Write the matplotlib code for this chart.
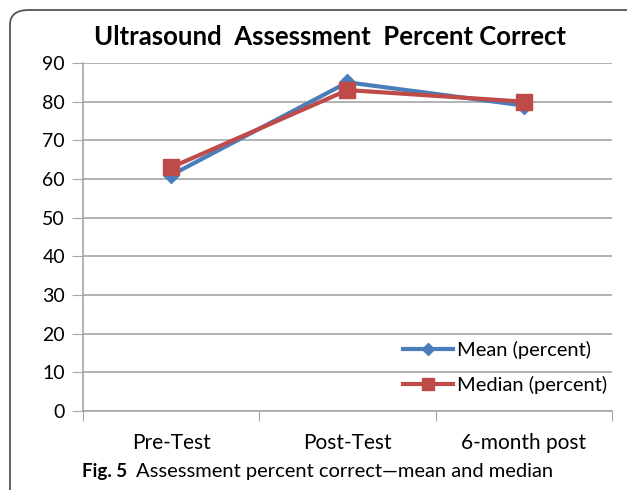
import matplotlib.pyplot as plt
from matplotlib.patches import FancyBboxPatch

# Daten
zeitpunkte = ["Pre-Test", "Post-Test", "6-month post"]
mittelwert = [61, 85, 79]   # Mean (percent)
median = [63, 83, 80]       # Median (percent)
y_ticks = [0, 10, 20, 30, 40, 50, 60, 70, 80, 90]

plt.rcParams['font.family'] = ['Lato', 'DejaVu Sans']

fig = plt.figure(figsize=(6.27, 4.9), dpi=100)

# Rahmen mit runden Ecken (rechts und unten abgeschnitten)
rahmen = FancyBboxPatch((10 / 627, -0.1), 1.1, 0.1 + 1 - 10 / 490,
                        boxstyle="round,pad=0,rounding_size=0.03",
                        transform=fig.transFigure, fill=False,
                        edgecolor='#555555', linewidth=1.3)
fig.patches.append(rahmen)

ax = fig.add_axes([83 / 627, 1 - 411 / 490, 529 / 627, 348 / 490])

x = list(range(len(zeitpunkte)))
ax.plot(x, mittelwert, color='#4A7EBB', linewidth=3, marker='D', markersize=8,
        label='Mean (percent)', zorder=3)
ax.plot(x, median, color='#BE4B48', linewidth=3, marker='s', markersize=12,
        label='Median (percent)', zorder=4)

ax.set_xlim(-0.5, 2.5)
ax.set_ylim(0, 90)
ax.set_yticks(y_ticks)
ax.yaxis.grid(True, color='#a6a6a6', linewidth=1.2)
ax.set_axisbelow(True)
ax.tick_params(axis='y', labelsize=14, length=8, color='#a6a6a6', pad=5)

# Kategorien zwischen den Tick-Strichen
ax.set_xticks([-0.5, 0.5, 1.5, 2.5])
ax.set_xticklabels([])
ax.tick_params(axis='x', length=7, color='#a6a6a6')
ax.set_xticks(x, minor=True)
ax.set_xticklabels(zeitpunkte, minor=True, fontsize=15)
ax.tick_params(axis='x', which='minor', length=0, pad=16)

for s in ['top', 'right']:
    ax.spines[s].set_visible(False)
for s in ['left', 'bottom']:
    ax.spines[s].set_color('#a6a6a6')
    ax.spines[s].set_linewidth(1.2)

ax.legend(loc='lower right', frameon=False, fontsize=14.5, handlelength=2.5,
          labelspacing=0.85, borderaxespad=0.1, handletextpad=0.2,
          markerscale=0.75, bbox_to_anchor=(1.01, 0.02))

fig.text(330 / 627, 1 - 37 / 490, "Ultrasound  Assessment  Percent Correct",
         ha='center', va='center', fontsize=18.5, fontweight='bold')

fig.text(82 / 627, 1 - 471 / 490, "Fig. 5", ha='left', va='center',
         fontsize=13.5, fontweight='bold')
fig.text(136 / 627, 1 - 471 / 490, "Assessment percent correct\u2014mean and median",
         ha='left', va='center', fontsize=14.5)

fig.savefig('out.png', dpi=100)
